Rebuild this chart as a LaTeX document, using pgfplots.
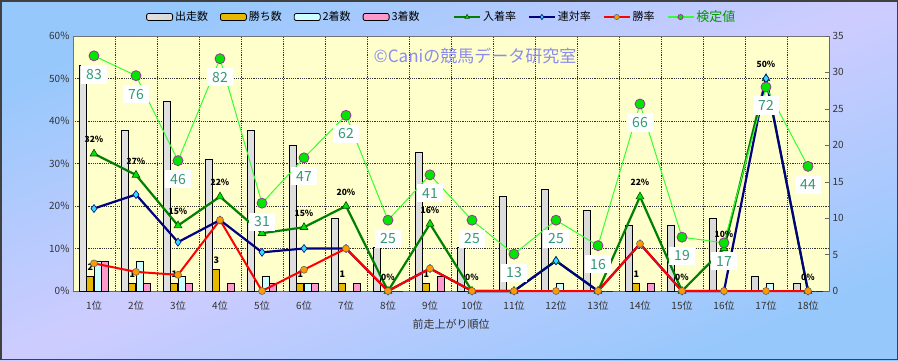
\documentclass[border=0pt]{standalone}
\usepackage{fontspec}
\setmainfont{Noto Sans CJK JP}
\usepackage{pgfplots}
\usepackage{pgfplotstable}
\pgfplotsset{compat=1.18}
\definecolor{plotbg}{RGB}{255,255,204}
\definecolor{bgblue}{RGB}{150,200,252}
\definecolor{bglav}{RGB}{206,204,255}
\definecolor{gold}{RGB}{230,184,0}
\definecolor{lcyan}{RGB}{204,255,255}
\definecolor{lpink}{RGB}{255,153,204}
\definecolor{dgreen}{RGB}{0,128,0}
\definecolor{navy}{RGB}{0,0,128}
\definecolor{kgreen}{RGB}{51,255,51}
\definecolor{kmark}{RGB}{0,230,0}
\definecolor{kedge}{RGB}{153,51,153}
\definecolor{klabel}{RGB}{51,153,119}
\definecolor{wm}{RGB}{140,140,238}
\definecolor{tgreen}{RGB}{0,150,0}
\definecolor{dcyan}{RGB}{51,221,255}
\definecolor{orng}{RGB}{255,153,0}

\pgfplotstableread{
x run win second third
1 31 2 4 4
2 22 1 4 1
3 26 1 2 1
4 18 3 0 1
5 22 0 2 1
6 20 1 1 1
7 10 1 0 1
8 6 0 0 0
9 19 1 0 2
10 6 0 0 0
11 13 0 0 0
12 14 0 1 0
13 11 0 0 0
14 9 1 0 1
15 9 0 0 0
16 10 0 0 0
17 2 0 1 0
18 1 0 0 0
}\counts

% lbl = -1: label hidden behind a value box in the reference
\pgfplotstableread{
x place renta win lbl
1 32.3 19.4 6.5 32
2 27.3 22.7 4.5 27
3 15.4 11.5 3.8 15
4 22.2 16.7 16.7 22
5 13.6 9.1 0 -1
6 15 10 5 15
7 20 10 10 20
8 0 0 0 0
9 15.8 5.3 5.3 16
10 0 0 0 0
11 0 0 0 -1
12 7.1 7.1 0 -1
13 0 0 0 -1
14 22.2 11.1 11.1 22
15 0 0 0 0
16 10 0 0 10
17 50 50 0 50
18 0 0 0 0
}\rates

\pgfplotstableread{
x v
1 83
2 76
3 46
4 82
5 31
6 47
7 62
8 25
9 41
10 25
11 13
12 25
13 16
14 66
15 19
16 17
17 72
18 44
}\kentei

\pgfplotsset{base/.style={scale only axis, width=756pt, height=255pt,
  at={(73pt,69pt)}, anchor=south west, xmin=0.5, xmax=18.5,
  /pgf/number format/assume math mode=true}}

\begin{document}
\begin{tikzpicture}[x=1pt,y=1pt]
\shade[top color=bgblue,bottom color=bgblue,middle color=bglav,shading angle=22] (0,0) rectangle (898,360);
\draw[line width=1.5pt,color=black!75] (0.75,0.75) rectangle (897.25,359.25);

% axis 0: background, grid, left ticks
\begin{axis}[base, ymin=0, ymax=60, ytick={0,10,...,60},
  yticklabel={\pgfmathprintnumber{\tick}\%},
  xtick={1.5,2.5,...,17.5}, xticklabels={},
  grid=major, major grid style={dash pattern=on 1.2pt off 1pt, black!80, line width=0.6pt},
  axis background/.style={fill=plotbg},
  axis line style={black!55, line width=0.8pt},
  tick style={draw=none},
  yticklabel style={font=\fontsize{10}{10}\selectfont, text=black!80}]
\end{axis}

\node[text=wm, font=\fontsize{17}{17}\selectfont] at (475,304) {©Caniの競馬データ研究室};

% axis 1: bars, right axis
\begin{axis}[base, ymin=0, ymax=35, axis y line*=right, axis x line*=bottom,
  ytick={0,5,...,35}, xtick={1,...,18},
  xticklabels={1位,2位,3位,4位,5位,6位,7位,8位,9位,10位,11位,12位,13位,14位,15位,16位,17位,18位},
  x tick style={draw=none}, y tick style={black!60},
  axis line style={black!60, line width=0.8pt},
  ticklabel style={font=\fontsize{10}{10}\selectfont, text=black!80},
  xticklabel style={yshift=-2pt},
  xlabel={前走上がり順位}, xlabel style={font=\fontsize{11}{11}\selectfont, text=black!80, yshift=-2pt},
  ybar=0.5pt, bar width=7pt,
  legend image code/.code={\draw[#1, rounded corners=2pt] (0pt,-3.5pt) rectangle (26pt,3.5pt);},
  legend style={at={(0.0926,1.0745)}, anchor=west, draw=none, fill=none,
    legend columns=-1, font=\fontsize{11}{11}\selectfont,
    /tikz/every even column/.append style={column sep=10pt}}]
\addplot[draw=black, line width=0.8pt, left color=black!12, middle color=white, right color=black!15] table[x=x,y=run]{\counts};
\addlegendentry{出走数}
\addplot[draw=black, line width=0.8pt, fill=gold,
  visualization depends on={rawy \as \rawy},
  nodes near coords={\ifdim\rawy pt>0.5pt \pgfmathprintnumber{\rawy}\fi},
  every node near coord/.append style={font=\bfseries\fontsize{9}{9}\selectfont, text=black, yshift=2pt}] table[x=x,y=win]{\counts};
\addlegendentry{勝ち数}
\addplot[draw=black, line width=0.8pt, fill=lcyan] table[x=x,y=second]{\counts};
\addlegendentry{2着数}
\addplot[draw=black, line width=0.8pt, fill=lpink] table[x=x,y=third]{\counts};
\addlegendentry{3着数}
\end{axis}

% axis 2: lines
\begin{axis}[base, ymin=0, ymax=60, hide axis, clip=false,
  legend image code/.code={\draw[mark repeat=2,mark phase=2,#1] plot coordinates {(0pt,0pt) (13pt,0pt) (26pt,0pt)};},
  legend image post style={line width=1.8pt, mark size=2.6pt},
  legend style={at={(0.4987,1.0745)}, anchor=west, draw=none, fill=none,
    legend columns=-1, font=\fontsize{11}{11}\selectfont,
    /tikz/every even column/.append style={column sep=10pt}}]
\addplot[dgreen, line width=2.2pt, mark=triangle*, mark size=4.5pt,
  mark options={fill=kmark, draw=black!70!green, line width=0.6pt},
  visualization depends on={\thisrow{lbl} \as \lbl},
  nodes near coords={\ifdim\lbl pt<0pt\else\pgfmathprintnumber[fixed,precision=0]{\lbl}\%\fi},
  every node near coord/.append style={font=\bfseries\fontsize{8.5}{8.5}\selectfont, text=black, yshift=7pt}] table[x=x,y=place]{\rates};
\addlegendentry{入着率}
\addplot[navy, line width=2.2pt, mark=diamond*, mark size=4pt,
  mark options={fill=dcyan, draw=navy, line width=0.6pt}] table[x=x,y=renta]{\rates};
\addlegendentry{連対率}
\addplot[red, line width=2pt, mark=*, mark size=3.5pt,
  mark options={fill=orng, draw=black!60, line width=0.6pt}] table[x=x,y=win]{\rates};
\addlegendentry{勝率}
\addplot[kgreen, line width=1pt, mark=*, mark size=5pt,
  mark options={fill=kmark, draw=kedge, line width=0.8pt},
  point meta=explicit,
  nodes near coords={\pgfmathprintnumber{\pgfplotspointmeta}},
  every node near coord/.append style={anchor=north, yshift=-9pt, fill=white, text=klabel,
    font=\fontsize{14}{14}\selectfont, inner xsep=5pt, inner ysep=4pt}]
  table[x=x, y expr=\thisrow{v}/1.5, meta=v]{\kentei};
\addlegendentry{\textcolor{tgreen}{\fontsize{13}{13}\selectfont 検定値}}
\end{axis}
\end{tikzpicture}
\end{document}
